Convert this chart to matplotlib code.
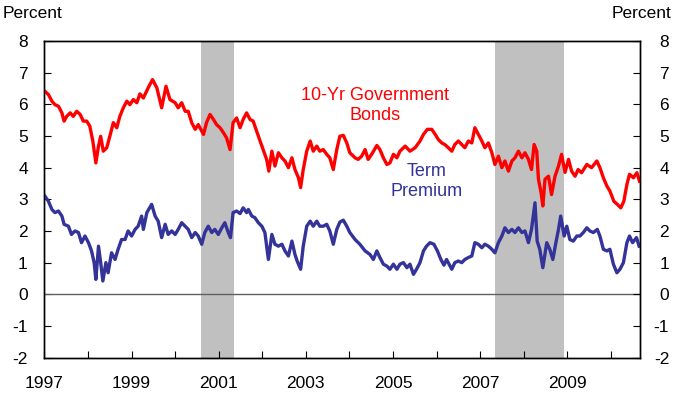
import matplotlib
matplotlib.use("Agg")
import matplotlib.pyplot as plt

plt.rcParams["font.family"] = ["Liberation Sans", "DejaVu Sans"]

# 10-year government bond yield (percent), dates in decimal years
bond_dates = [
    1997.59, 1997.67, 1997.75, 1997.82, 1997.90, 1997.98, 1998.03, 1998.09, 1998.17, 1998.24,
    1998.32, 1998.40, 1998.47, 1998.55, 1998.62, 1998.69, 1998.76, 1998.82, 1998.87, 1998.93,
    1999.01, 1999.08, 1999.16, 1999.24, 1999.31, 1999.39, 1999.47, 1999.54, 1999.62, 1999.70,
    1999.77, 1999.85, 1999.96, 2000.06, 2000.16, 2000.27, 2000.37, 2000.46, 2000.58, 2000.65,
    2000.73, 2000.81, 2000.88, 2000.96, 2001.04, 2001.11, 2001.23, 2001.30, 2001.38, 2001.46,
    2001.53, 2001.61, 2001.69, 2001.76, 2001.84, 2001.91, 2001.99, 2002.07, 2002.14, 2002.22,
    2002.30, 2002.37, 2002.45, 2002.53, 2002.60, 2002.68, 2002.73, 2002.80, 2002.87, 2002.95,
    2003.03, 2003.10, 2003.18, 2003.26, 2003.33, 2003.41, 2003.46, 2003.52, 2003.60, 2003.68,
    2003.75, 2003.83, 2003.90, 2003.98, 2004.06, 2004.13, 2004.21, 2004.29, 2004.36, 2004.44,
    2004.52, 2004.59, 2004.71, 2004.78, 2004.86, 2004.94, 2005.01, 2005.09, 2005.21, 2005.28,
    2005.36, 2005.44, 2005.51, 2005.59, 2005.67, 2005.74, 2005.86, 2005.97, 2006.09, 2006.20,
    2006.28, 2006.37, 2006.47, 2006.55, 2006.62, 2006.70, 2006.77, 2006.85, 2006.93, 2007.00,
    2007.08, 2007.16, 2007.23, 2007.31, 2007.39, 2007.46, 2007.54, 2007.62, 2007.69, 2007.77,
    2007.85, 2007.92, 2008.00, 2008.08, 2008.15, 2008.23, 2008.31, 2008.38, 2008.46, 2008.54,
    2008.61, 2008.69, 2008.76, 2008.82, 2008.88, 2008.92, 2008.98, 2009.02, 2009.07, 2009.15,
    2009.22, 2009.30, 2009.38, 2009.45, 2009.53, 2009.61, 2009.68, 2009.76, 2009.83, 2009.91,
    2010.03, 2010.14, 2010.26, 2010.33, 2010.41, 2010.49, 2010.56, 2010.65, 2010.73, 2010.81,
    2010.88, 2010.95, 2011.01, 2011.10, 2011.18, 2011.24,
]
bond_vals = [
    6.41, 6.31, 6.10, 5.99, 5.94, 5.73, 5.47, 5.62, 5.73, 5.62,
    5.78, 5.68, 5.47, 5.47, 5.31, 4.84, 4.15, 4.68, 4.99, 4.52,
    4.63, 4.99, 5.42, 5.26, 5.62, 5.89, 6.10, 5.99, 6.15, 6.05,
    6.33, 6.20, 6.52, 6.78, 6.52, 5.89, 6.57, 6.15, 6.05, 5.89,
    6.05, 5.78, 5.78, 5.42, 5.21, 5.36, 5.05, 5.42, 5.68, 5.52,
    5.36, 5.26, 5.10, 4.94, 4.57, 5.42, 5.57, 5.26, 5.52, 5.73,
    5.52, 5.47, 5.15, 4.84, 4.57, 4.26, 3.89, 4.52, 4.05, 4.47,
    4.31, 4.21, 4.00, 4.31, 3.94, 3.68, 3.37, 3.94, 4.52, 4.84,
    4.52, 4.68, 4.52, 4.57, 4.42, 4.31, 3.94, 4.57, 4.99, 5.02,
    4.78, 4.47, 4.31, 4.26, 4.36, 4.57, 4.26, 4.42, 4.70, 4.57,
    4.31, 4.10, 4.15, 4.42, 4.31, 4.52, 4.68, 4.52, 4.63, 4.84,
    5.05, 5.21, 5.21, 5.05, 4.89, 4.78, 4.73, 4.63, 4.52, 4.73,
    4.84, 4.73, 4.63, 4.84, 4.78, 5.26, 5.05, 4.84, 4.63, 4.78,
    4.47, 4.10, 4.36, 4.00, 4.21, 3.89, 4.21, 4.31, 4.52, 4.31,
    4.47, 4.26, 3.94, 4.73, 4.52, 3.63, 3.21, 2.79, 3.63, 3.73,
    3.15, 3.73, 4.05, 4.42, 3.85, 4.26, 3.89, 3.73, 3.94, 3.84,
    4.10, 4.00, 4.21, 4.00, 3.68, 3.42, 3.26, 2.94, 2.84, 2.73,
    2.94, 3.47, 3.79, 3.68, 3.84, 3.57,
]

# term premium (percent)
tp_dates = [
    1997.59, 1997.67, 1997.75, 1997.82, 1997.90, 1997.98, 1998.03, 1998.13, 1998.20, 1998.28,
    1998.36, 1998.43, 1998.51, 1998.59, 1998.66, 1998.72, 1998.76, 1998.82, 1998.87, 1998.92,
    1998.99, 1999.04, 1999.12, 1999.20, 1999.27, 1999.35, 1999.43, 1999.50, 1999.58, 1999.66,
    1999.73, 1999.81, 1999.85, 1999.93, 2000.04, 2000.12, 2000.19, 2000.27, 2000.35, 2000.42,
    2000.50, 2000.58, 2000.65, 2000.73, 2000.81, 2000.88, 2000.96, 2001.04, 2001.11, 2001.19,
    2001.26, 2001.34, 2001.42, 2001.49, 2001.57, 2001.65, 2001.72, 2001.80, 2001.85, 2001.91,
    2001.99, 2002.07, 2002.14, 2002.22, 2002.26, 2002.34, 2002.41, 2002.49, 2002.57, 2002.64,
    2002.72, 2002.80, 2002.87, 2002.95, 2003.03, 2003.10, 2003.18, 2003.26, 2003.33, 2003.38,
    2003.46, 2003.52, 2003.60, 2003.68, 2003.75, 2003.83, 2003.90, 2003.98, 2004.06, 2004.13,
    2004.21, 2004.29, 2004.36, 2004.44, 2004.52, 2004.59, 2004.71, 2004.82, 2004.94, 2005.05,
    2005.13, 2005.21, 2005.28, 2005.36, 2005.44, 2005.51, 2005.59, 2005.67, 2005.74, 2005.82,
    2005.90, 2005.97, 2006.05, 2006.12, 2006.20, 2006.28, 2006.35, 2006.43, 2006.52, 2006.60,
    2006.68, 2006.75, 2006.81, 2006.93, 2007.00, 2007.08, 2007.16, 2007.23, 2007.31, 2007.39,
    2007.46, 2007.54, 2007.62, 2007.69, 2007.77, 2007.85, 2007.92, 2008.00, 2008.08, 2008.15,
    2008.23, 2008.31, 2008.38, 2008.46, 2008.54, 2008.61, 2008.69, 2008.76, 2008.84, 2008.89,
    2008.95, 2009.02, 2009.11, 2009.18, 2009.25, 2009.32, 2009.38, 2009.43, 2009.51, 2009.57,
    2009.64, 2009.72, 2009.80, 2009.87, 2009.95, 2010.03, 2010.10, 2010.18, 2010.27, 2010.33,
    2010.41, 2010.49, 2010.56, 2010.64, 2010.72, 2010.79, 2010.87, 2010.95, 2011.01, 2011.08,
    2011.17, 2011.23,
]
tp_vals = [
    3.10, 2.94, 2.68, 2.58, 2.63, 2.47, 2.21, 2.15, 1.89, 2.00,
    1.95, 1.63, 1.84, 1.63, 1.37, 1.00, 0.47, 1.52, 1.00, 0.42,
    1.00, 0.68, 1.31, 1.10, 1.42, 1.73, 1.73, 2.00, 1.84, 2.05,
    2.15, 2.47, 2.05, 2.58, 2.84, 2.47, 2.31, 1.79, 2.21, 1.89,
    2.00, 1.89, 2.05, 2.26, 2.15, 2.05, 1.79, 1.95, 1.84, 1.58,
    1.95, 2.15, 1.95, 2.05, 1.89, 2.10, 2.26, 1.95, 1.79, 2.58,
    2.63, 2.55, 2.73, 2.58, 2.68, 2.47, 2.42, 2.26, 2.15, 1.95,
    1.10, 1.89, 1.58, 1.52, 1.58, 1.37, 1.21, 1.68, 1.26, 1.05,
    0.79, 1.52, 2.15, 2.31, 2.15, 2.31, 2.15, 2.15, 2.21, 2.00,
    1.58, 2.05, 2.28, 2.34, 2.15, 1.95, 1.73, 1.58, 1.37, 1.26,
    1.10, 1.37, 1.16, 0.95, 0.89, 0.79, 0.95, 0.79, 0.95, 1.00,
    0.84, 0.95, 0.63, 0.79, 1.00, 1.37, 1.52, 1.63, 1.58, 1.37,
    1.10, 0.92, 1.10, 0.79, 1.00, 1.05, 1.00, 1.10, 1.16, 1.21,
    1.63, 1.58, 1.47, 1.58, 1.52, 1.42, 1.31, 1.63, 1.84, 2.10,
    1.95, 2.05, 1.95, 2.10, 1.95, 2.00, 1.63, 2.05, 2.89, 1.68,
    1.42, 0.84, 1.63, 1.42, 1.10, 1.63, 2.05, 2.47, 1.84, 2.15,
    1.73, 1.68, 1.84, 1.84, 1.95, 2.10, 2.00, 1.95, 2.05, 1.84,
    1.42, 1.37, 1.42, 0.95, 0.68, 0.79, 1.00, 1.63, 1.84, 1.63,
    1.79, 1.52,
]

# NBER recessions
recessions = [(2001.17, 2001.92), (2007.92, 2009.50)]

# the year labels sit on ticks that fall in August of each year
x_start = 1997.58
x_end = 2011.25
year_labels = list(range(1997, 2011))
y_ticks = list(range(-2, 9))

assert len(bond_dates) == len(bond_vals)
assert len(tp_dates) == len(tp_vals)

fig = plt.figure(figsize=(6.77, 4.0), dpi=100)
ax = fig.add_axes([0.0657, 0.106, 0.8796, 0.7915])

for a, b in recessions:
    ax.axvspan(a, b, color="#c0c0c0", lw=0, zorder=1)

ax.axhline(0, color="#606060", lw=1.0, zorder=2)
ax.plot(bond_dates, bond_vals, color="#ff0000", lw=2.4, zorder=3)
ax.plot(tp_dates, tp_vals, color="#333399", lw=2.4, zorder=3)

ax.text(2005.17, 5.96, "10-Yr Government\nBonds", color="#ff0000", fontsize=13,
        ha="center", va="center", linespacing=1.25)
ax.text(2006.36, 3.56, "Term\nPremium", color="#333399", fontsize=13,
        ha="center", va="center", linespacing=1.25)

ax.set_xlim(x_start, x_end)
ax.set_ylim(-2, 8)

ax.set_xticks([x_start + (y - 1997) for y in year_labels])
ax.set_xticklabels([str(y) if (y - 1997) % 2 == 0 else "" for y in year_labels])
ax.set_yticks(y_ticks)
ax.set_yticklabels([str(v) for v in y_ticks])

ax.tick_params(axis="x", direction="in", length=5, width=0.8, labelsize=12.5, pad=13)
ax.tick_params(axis="y", direction="in", length=5, width=0.8, labelsize=12.5, pad=12)

# right-hand axis: same scale, labels right-aligned near the figure edge
ax2 = ax.twinx()
ax2.set_ylim(-2, 8)
ax2.set_yticks(y_ticks)
ax2.set_yticklabels([str(v) for v in y_ticks])
ax2.tick_params(axis="y", direction="in", length=5, width=0.8, labelsize=12.5, pad=21)
for lbl in ax2.get_yticklabels():
    lbl.set_horizontalalignment("right")

for a_ in (ax, ax2):
    for s in a_.spines.values():
        s.set_linewidth(1.0)
        s.set_color("black")

fig.text(3 / 677, 1 - 14 / 400, "Percent", fontsize=12.5, ha="left", va="center")
fig.text(671 / 677, 1 - 14 / 400, "Percent", fontsize=12.5, ha="right", va="center")

fig.savefig("out.png", dpi=100)
